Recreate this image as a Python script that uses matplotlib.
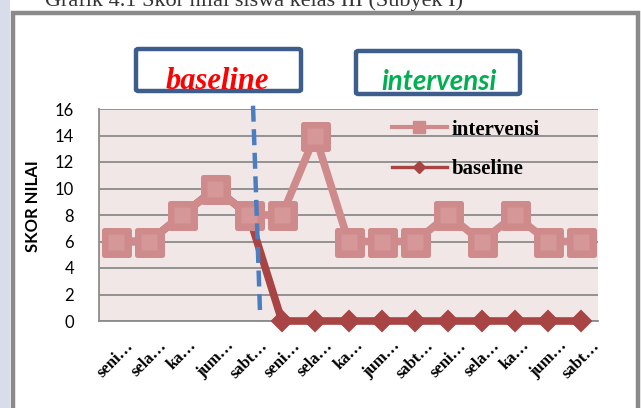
import matplotlib
matplotlib.use("Agg")
import matplotlib.pyplot as plt
from matplotlib.lines import Line2D
from matplotlib.patches import Rectangle, FancyBboxPatch
from matplotlib.markers import MarkerStyle

# ---- data ----
categories = ["seni…", "sela…", "ka…", "jum…", "sabt…"] * 3
intervensi = [6, 6, 8, 10, 8, 8, 14, 6, 6, 6, 8, 6, 8, 6, 6]
baseline = [6, 6, 8, 10, 8, 0, 0, 0, 0, 0, 0, 0, 0, 0, 0]
yticks = [0, 2, 4, 6, 8, 10, 12, 14, 16]
phase_labels = ["baseline", "intervensi"]
ylabel = "SKOR NILAI"
# phase-change dashed line (data coords, top -> bottom)
split_x = (4.13, 4.34)
split_y = (16.25, 0.68)

W, H = 641, 408
fig = plt.figure(figsize=(W / 100, H / 100), dpi=100)
fig.patch.set_facecolor("white")

def px(x, y):
    return x / W, 1 - y / H

# left watermark stripe and frame
fig.patches.append(Rectangle((0, 0), 10 / W, 1, transform=fig.transFigure,
                             facecolor="#D9DCEB", edgecolor="none", zorder=-2))
fig.patches.append(Rectangle(px(13, 430), (638 - 13) / W, (430 - 13) / H,
                             transform=fig.transFigure, facecolor="white",
                             edgecolor="#8A8A8A", linewidth=3.2, zorder=-1))

# cut-off caption at the top
fig.text(45 / W, 1 - 6 / H, "Grafik 4.1 Skor nilai siswa kelas III (Subyek I)",
         fontsize=16, family="Liberation Serif", color="#333333",
         ha="left", va="baseline", zorder=2)

ax = fig.add_axes([99 / W, (H - 321) / H, 499 / W, 212 / H])
ax.set_zorder(2)
ax.set_facecolor("#F2E7E7")
x = list(range(len(categories)))

pink = "#CF8B8B"
pink_in = "#D59797"
dark = "#A84444"

sq = MarkerStyle("s", joinstyle="round")
ax.plot(x, baseline, color=dark, lw=5.5, solid_joinstyle="miter", zorder=3,
        marker="D", markersize=10.5, markerfacecolor=dark,
        markeredgecolor=dark, markeredgewidth=1.5, clip_on=False)
ax.plot(x, intervensi, color=pink, lw=5.5, zorder=4,
        marker=sq, markersize=18, markerfacecolor=pink,
        markeredgecolor=pink, markeredgewidth=3.6, clip_on=False)
ax.plot(x, intervensi, linestyle="none", marker="s", markersize=11,
        markerfacecolor=pink_in, markeredgecolor="none", zorder=5, clip_on=False)

ax.plot(split_x, split_y, color="#4A7EC0", lw=3.2, linestyle=(0, (3.6, 1.7)),
        zorder=6, clip_on=False, dash_capstyle="butt")

ax.set_xlim(-0.5, len(categories) - 0.5)
ax.set_ylim(0, 16)
ax.set_yticks(yticks)
ax.set_yticklabels([str(v) for v in yticks], fontsize=12, family="Lato")
ax.set_xticks(x)
ax.set_xticklabels(categories, fontsize=12, family="Liberation Serif",
                   fontweight="bold", rotation=45, ha="center")
ax.tick_params(axis="both", length=0)
ax.tick_params(axis="y", pad=18)
ax.tick_params(axis="x", pad=12)
ax.grid(axis="y", color="#8C8C8C", lw=1.3, zorder=1)
ax.set_axisbelow(True)
for s in ["top", "right"]:
    ax.spines[s].set_visible(False)
ax.spines["left"].set_color("#8C8C8C")
ax.spines["left"].set_linewidth(1.3)
ax.spines["bottom"].set_color("#8C8C8C")
ax.spines["bottom"].set_linewidth(1.3)
ax.set_ylabel(ylabel, fontsize=12, fontweight="bold", family="Lato")
ax.yaxis.set_label_coords(-0.117, 0.54)

handles = [
    Line2D([0], [0], color=pink, lw=3, marker="s", markersize=8,
           markerfacecolor=pink, markeredgecolor=pink),
    Line2D([0], [0], color=dark, lw=2.4, marker="D", markersize=6,
           markerfacecolor=dark, markeredgecolor=dark),
]
leg = ax.legend(handles, ["intervensi", "baseline"], loc="upper left",
                bbox_to_anchor=(0.588, 0.95), frameon=False,
                prop={"family": "Liberation Serif", "weight": "bold", "size": 15},
                handlelength=2.6, handletextpad=0.25, labelspacing=0.95,
                borderpad=0, borderaxespad=0)
leg.set_zorder(10)

# phase boxes
boxes = [(136, 49, 301, 91), (356, 51, 520, 94)]
for (x0, y0, x1, y1) in boxes:
    fig.patches.append(FancyBboxPatch(px(x0, y1), (x1 - x0) / W, (y1 - y0) / H,
                                      boxstyle="round,pad=0,rounding_size=0.004",
                                      transform=fig.transFigure, facecolor="white",
                                      edgecolor="#3D5E8C", linewidth=3.2, zorder=3))
fig.text(217 / W, 1 - 89 / H, phase_labels[0], color="#FF0000", fontsize=22,
         family="Liberation Serif", fontweight="bold", style="italic",
         ha="center", va="baseline", zorder=4)
fig.text(439 / W, 1 - 90 / H, phase_labels[1], color="#00B050", fontsize=20,
         family="Lato", fontweight="bold", style="italic",
         ha="center", va="baseline", zorder=4)

fig.savefig("out.png", dpi=100)
